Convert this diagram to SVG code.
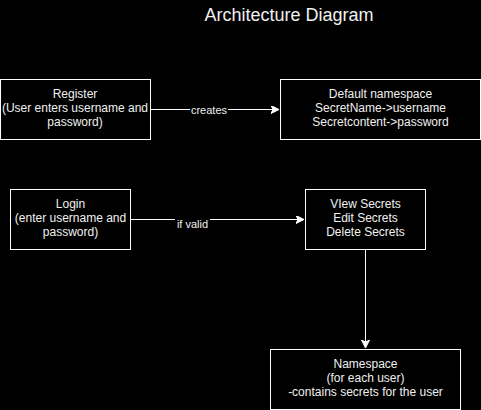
<svg xmlns="http://www.w3.org/2000/svg" width="481" height="410" viewBox="0 0 481 410">
<style>
.box{fill:#000;stroke:#fff;stroke-width:1}
.t{font-family:"Liberation Sans",Arial,sans-serif;font-size:12px;fill:#f0f0f0;text-anchor:middle}
.lbl{font-family:"Liberation Sans",Arial,sans-serif;font-size:11px;fill:#f0f0f0;text-anchor:middle}
.edge{stroke:#fff;stroke-width:1;fill:none}
</style>
<defs>
<marker id="arr" markerWidth="10" markerHeight="10" refX="8" refY="4" orient="auto" markerUnits="userSpaceOnUse">
<path d="M0,0 L8,4 L0,8 L2,4 Z" fill="#fff" stroke="#fff" stroke-width="1"/>
</marker>
</defs>
<rect width="481" height="410" fill="#000"/>
<text x="289" y="20.5" font-family="'Liberation Sans',Arial,sans-serif" font-size="18" fill="#f0f0f0" text-anchor="middle">Architecture Diagram</text>
<g id="connectors">
<path class="edge" d="M150.5,109.5 L279,109.5" marker-end="url(#arr)"/>
<rect x="190" y="103" width="38" height="13" fill="#000"/>
<text class="lbl" x="209" y="113.5">creates</text>
<path class="edge" d="M130.5,219.5 L304,219.5" marker-end="url(#arr)"/>
<rect x="175" y="217" width="35" height="13" fill="#000"/>
<text class="lbl" x="192.5" y="227.5">if valid</text>
<path class="edge" d="M365.5,249.5 L365.5,348" marker-end="url(#arr)"/>
</g>
<g id="register">
<rect class="box" x="0.5" y="79.5" width="150" height="60"/>
<text class="t" x="75" y="98">Register</text>
<text class="t" x="75" y="112">(User enters username and</text>
<text class="t" x="75" y="126">password)</text>
</g>
<g id="default-namespace">
<rect class="box" x="280.5" y="79.5" width="200" height="60"/>
<text class="t" x="380.5" y="98">Default namespace</text>
<text class="t" x="380.5" y="112">SecretName-&gt;username</text>
<text class="t" x="380.5" y="126">Secretcontent-&gt;password</text>
</g>
<g id="login">
<rect class="box" x="10.5" y="189.5" width="120" height="60"/>
<text class="t" x="70.5" y="208">Login</text>
<text class="t" x="70.5" y="222">(enter username and</text>
<text class="t" x="70.5" y="236">password)</text>
</g>
<g id="secrets">
<rect class="box" x="305.5" y="189.5" width="120" height="60"/>
<text class="t" x="365.5" y="208">VIew Secrets</text>
<text class="t" x="365.5" y="222">Edit Secrets</text>
<text class="t" x="365.5" y="236">Delete Secrets</text>
</g>
<g id="namespace">
<rect class="box" x="270.5" y="349.5" width="190" height="60"/>
<text class="t" x="365.5" y="368">Namespace</text>
<text class="t" x="365.5" y="382">(for each user)</text>
<text class="t" x="365.5" y="396">-contains secrets for the user</text>
</g>
</svg>
